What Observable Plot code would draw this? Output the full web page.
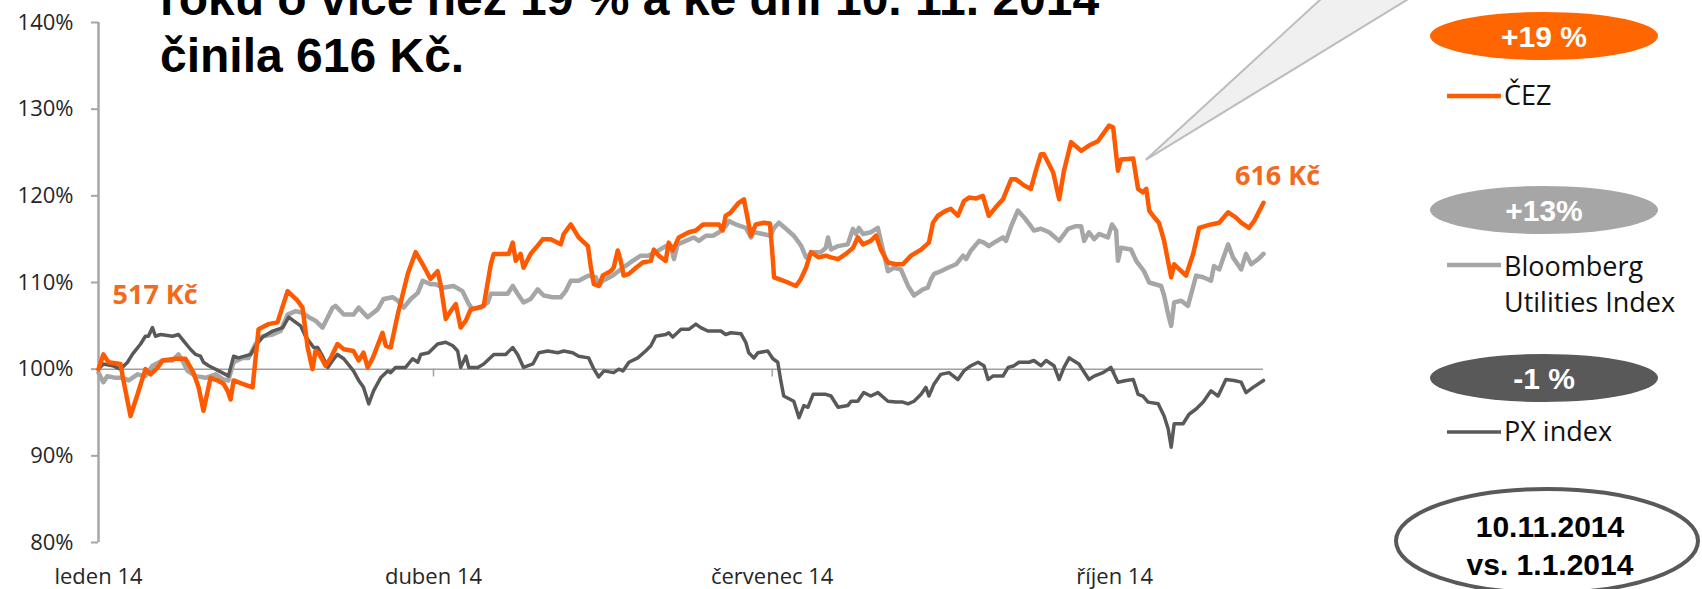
<!DOCTYPE html>
<html><head><meta charset="utf-8">
<script src="https://cdn.jsdelivr.net/npm/d3@7"></script>
<script src="https://cdn.jsdelivr.net/npm/@observablehq/plot@0.6"></script>
<style>
html,body{margin:0;padding:0;background:#fff;overflow:hidden;}
#wrap{position:relative;width:1702px;height:589px;overflow:hidden;background:#fff;}
#wrap svg{position:absolute;left:0;top:0;}
</style></head><body><div id="wrap"></div>
<script>
// ---- data (days since 1.1.2014, value in % of 1.1.2014) ----
const endDay = 313; // 10.11.2014
const monthTickDays = [0, 90, 181, 273];
const monthLabels = ["leden 14", "duben 14", "červenec 14", "říjen 14"];
const yTicks = [80, 90, 100, 110, 120, 130, 140];

const cez = [[0,100],[1.3,101.7],[2.7,100.8],[5.9,100.6],[6.7,98.7],[8.6,94.6],[10.5,97.1],[12.6,100],[14,99.4],[15.9,100.2],[17.2,101],[20.7,101.2],[23.4,101.2],[25.5,99.6],[26.9,97.9],[28.2,95.2],[30.1,99],[32,98.7],[33.6,98.3],[34.7,97.5],[35.5,96.5],[36.3,98.7],[38.7,98.3],[41.4,97.9],[43,104.6],[45.7,105.2],[48.1,105.4],[50.8,109],[53.5,107.9],[54.8,107.1],[56.2,102.5],[57.5,100],[58.3,102.1],[59.1,101.9],[61,100.4],[62.4,101.3],[64.2,102.9],[65.9,102.3],[68.5,102.1],[69.9,101],[71.2,101.9],[72.3,100.2],[73.7,101.3],[76.3,104.2],[77.2,102.7],[78.5,102.5],[80.4,106.3],[83.1,111],[85.2,113.5],[87.1,112.1],[89.2,110.4],[91.1,111.3],[91.9,109.8],[93.3,105.8],[94.6,106.7],[96,107.5],[97.3,104.8],[98.7,105.6],[100,106.9],[101.9,107.1],[103.5,107.3],[105.4,112.1],[106.2,113.3],[108.6,113.3],[110.2,113.3],[111.3,114.6],[112.1,112.5],[113.4,113.3],[114.2,111.7],[116.1,113.3],[117.5,114],[119.4,115],[121.5,115],[124.2,114.4],[125,115.6],[126.9,116.7],[129,115.2],[131.5,114.2],[132.3,111.7],[133.1,109.8],[134.4,109.6],[135.5,110.8],[137.6,111.3],[138.4,111.7],[139.5,113.7],[140.3,112.5],[141.1,110.8],[142.5,111],[144.4,111.7],[146.2,112.3],[148.4,112.5],[149.2,113.8],[150.5,113.1],[152.4,112.5],[153.2,114.6],[154.3,113.7],[155.9,115.2],[158.6,115.8],[160.5,116],[162.4,116.7],[165.1,116.7],[166.7,116.7],[167.7,116],[168.5,117.7],[169.9,118.1],[172,119.2],[173.4,119.6],[175.3,115.4],[176.6,116.7],[178.8,116.9],[180.4,116.8],[181.2,112.5],[181.5,110.6],[182.8,110.4],[184.1,110.2],[187.4,109.6],[188.7,110.4],[190.1,111.7],[191.4,113.5],[193.5,112.9],[195.4,113.1],[196.8,112.9],[198.7,112.7],[200.8,113.3],[202.7,114],[204,115.2],[205.4,114.4],[207.5,114.8],[208.9,115.4],[210.2,113.8],[212.1,112.3],[214.2,112.1],[216.1,112.1],[218.3,113.1],[221,113.8],[223.1,114.6],[224.2,116.9],[225.5,117.7],[227.7,118.3],[229,118.5],[230.9,117.7],[232.5,119.4],[233.9,119.8],[235.8,119.7],[237.6,120],[239.2,117.7],[241.1,118.7],[243,119.6],[245.2,121.9],[246.5,121.9],[248.7,121.2],[250.5,120.8],[251.9,123],[253.2,124.8],[254,124.8],[256.5,122.7],[258.1,119.6],[259.4,122.9],[261.3,126.2],[264,125.2],[266.1,125.8],[268.5,126.3],[271.5,128.1],[272.6,127.9],[273.9,122.9],[274.7,124.2],[278,124.3],[279.3,120.8],[280.6,120.4],[281.5,120.8],[282.3,118.3],[283.3,117.7],[284.9,116.9],[286.3,114.8],[288.2,110.6],[289,112.1],[292.2,110.8],[294.1,113.3],[295.7,116.3],[298.9,116.7],[301.1,116.9],[303.5,118.1],[305.6,117.5],[307,116.9],[309.1,116.3],[310.5,117.1],[313,119.2]];

const bloomberg = [[0,99.6],[1.3,98.5],[2.4,99.2],[4.6,99],[6.5,99],[8.1,98.7],[10.5,99.4],[12.6,99.2],[14.5,100.4],[17.2,101],[19.9,101],[21.5,101.7],[22.8,100.8],[23.9,99.8],[26.1,99.2],[28.8,99],[31.5,99.4],[33.6,98.8],[34.9,98.7],[36.3,100.8],[38.7,101.3],[40.3,101.3],[42.2,102.9],[44.1,103.8],[46.8,104],[48.9,104.4],[50.8,106.3],[53,106.7],[54.8,106.5],[56.5,106],[58.3,105.6],[60.2,104.8],[61.6,106],[62.9,107.1],[63.7,107.3],[65.9,106.3],[68.5,106.3],[69.9,107.1],[72.3,106],[75,106.9],[76.6,108.1],[79,108.3],[80.4,107.9],[82,107.1],[83.9,108.1],[85.8,108.8],[87.1,110.2],[89.2,109.8],[90.6,109.8],[92.5,109.4],[95.4,109.6],[97.8,109],[99.5,107.5],[100.5,106.9],[102.7,107.1],[104.6,107.7],[105.4,108.7],[108.1,108.7],[109.9,108.7],[111.3,109.6],[112.6,108.7],[114.2,107.7],[116.1,108.1],[118,109.2],[119.6,108.5],[122,108.3],[124.2,108.3],[125.5,109],[126.9,110.2],[129,110.2],[131.7,110.8],[133.6,110.6],[134.4,109.6],[135.5,110.2],[138.2,110.8],[140.9,111.7],[143.5,112.5],[145.7,113.1],[147.8,113.1],[149.7,113.5],[152.4,114.2],[153.8,114.2],[154.6,112.7],[155.6,114.4],[157.8,114.8],[159.9,115.2],[161.3,114.8],[163.2,115.4],[165.1,115.4],[166.7,115.8],[168.5,116.5],[169.4,117.1],[171.2,116.7],[173.9,116.3],[175.3,115.2],[176.1,115.8],[178.5,115.6],[180.6,115.4],[181.5,116.3],[182.8,116.9],[184.7,116.2],[186.8,115.4],[188.7,114.3],[190.1,112.9],[192.2,113.5],[194.1,113.5],[195.4,114],[196,115.2],[196.8,113.8],[198.7,114.2],[201.3,114.4],[202.7,116.2],[203.5,115.6],[204.3,116.3],[205.4,115.6],[207.5,115.8],[209.4,116.3],[210.2,114.8],[212.1,111.3],[213.7,111.7],[215.6,111.5],[217.5,109.6],[219.1,108.5],[221.5,109.2],[222.8,109.4],[223.7,110.4],[224.5,111],[226.3,111.3],[228.2,111.7],[230.4,112.1],[232.3,113.1],[233.1,112.7],[234.4,113.7],[236.6,114.8],[237.9,114.6],[239.2,114.2],[240.6,114.6],[243,115.2],[243.8,114.8],[245.2,116.5],[247,118.3],[248.7,117.5],[250.5,116.5],[251.3,116],[253.2,116.2],[255.4,115.8],[258.1,114.8],[260.5,116.2],[262.6,116.5],[264,116.5],[264.8,114.8],[266.1,115.8],[267.5,115],[268.8,115.6],[271.2,115.2],[272.3,116.7],[273.4,116],[273.9,112.5],[274.7,114],[277.4,113.8],[278.8,112.5],[280.9,111.3],[282.3,110],[285.5,109.6],[286.3,108.5],[287.4,106.3],[288.2,105],[289,107.7],[290.9,107.9],[292.7,107.3],[294.9,110.8],[296.8,110.6],[298.9,110.2],[299.7,111.9],[301.1,111.5],[303.5,114.4],[304.8,112.9],[307,111.5],[308.3,113.3],[309.7,112.1],[311.6,112.7],[313,113.3]];

const px = [[0,100],[1.3,100.6],[3.8,100.4],[5.9,100],[7.8,100.8],[9.1,101.7],[11.3,102.9],[12.6,103.8],[13.4,103.8],[14.5,104.8],[15.3,103.8],[16.7,104],[19.9,103.8],[21.5,104],[22.8,103.3],[24.7,102.3],[26.1,101.7],[27.4,101.5],[28.2,100.8],[29.6,100.4],[32.3,99.8],[34.1,99.4],[34.9,99.2],[36.3,101.5],[37.6,101.3],[40.9,101.7],[42.2,102.7],[44.1,103.7],[46.8,104.4],[49.5,104.8],[51.1,106],[53,105.4],[54.3,105],[55.6,103.8],[57.8,102.5],[58.9,102.5],[60.2,101.5],[61.6,100.2],[62.9,101],[64.2,101.7],[65.9,101.2],[68.5,99.8],[69.9,98.7],[71.2,97.9],[72.6,96],[73.9,97.5],[75.8,99],[77.7,99.8],[78.5,99.6],[79.8,100.2],[82.5,100.2],[84.4,101.2],[85.8,100.8],[86.6,101.7],[88.7,101.9],[91.1,102.9],[93.3,103.1],[95.2,102.7],[96.5,102.1],[97.3,100.2],[98.7,101.5],[99.5,100.2],[101.9,100.2],[103.5,100.6],[106.2,101.7],[109.4,101.7],[111.3,102.5],[112.6,101.7],[114.2,100.2],[116.7,100.6],[118.3,101.9],[120.7,102.1],[123.4,101.9],[125,102.1],[127.4,101.9],[129,101.5],[131.7,101.3],[133.1,100],[134.4,99.1],[135.8,99.8],[138.4,99.6],[139.8,100],[140.9,99.8],[142.5,100.8],[144.9,101.3],[147,102.1],[148.4,102.7],[149.7,103.8],[152.4,104],[153.2,104.2],[154.3,103.7],[156.5,104.6],[158.6,104.6],[160.5,105.2],[161.8,104.8],[163.7,104.4],[167.2,104.4],[168.5,104],[169.9,104.2],[172.6,104.1],[173.9,103.1],[174.7,101.9],[176.1,101.3],[177.2,101.9],[179.8,102.1],[181.2,101.2],[182.5,100.8],[183.3,98.7],[184.1,96.9],[186.8,96.3],[188.2,94.4],[189.5,95.8],[190.6,95.6],[192,97.1],[195.4,97.1],[196.8,96.9],[198.7,95.6],[201.3,95.8],[202.2,96.3],[204,96.3],[205.6,97.3],[207.5,96.9],[209.4,97.3],[212.1,96.3],[214.2,96.2],[216.1,96.2],[217.5,96],[219.1,96.3],[221,97.1],[222.3,97.9],[223.1,96.9],[224.5,98.3],[226.3,99.4],[228.5,99.6],[230.9,98.8],[232.5,99.8],[234.4,100.4],[236.3,100.8],[237.9,100.4],[239,98.8],[240.3,99.2],[243,99.2],[244.4,100.2],[246,100.4],[247.3,100.8],[250,100.8],[251.3,101],[253.2,100.4],[254.6,101],[256.7,100.4],[258.1,98.8],[259.4,100.2],[260.8,101.3],[263.4,100.6],[266.1,98.8],[267.5,99.2],[269.9,99.6],[272,100.2],[273.9,98.5],[276.1,98.7],[278,98.8],[279.3,97.1],[280.6,96.9],[282,96.2],[284.7,96],[286.3,94.6],[287.4,93.1],[288.2,91],[289,93.7],[291.4,93.7],[293,94.8],[294.9,95.4],[296.8,96.2],[298.9,97.5],[300.8,96.9],[302.9,98.8],[305.1,98.7],[307,98.5],[308.3,97.3],[310.2,97.9],[313,98.7]];

const seriesNames = [["ČEZ"], ["Bloomberg", "Utilities Index"], ["PX index"]];
const seriesChanges = ["+19 %", "+13%", "-1 %"];
const priceStart = "517 Kč";
const priceEnd = "616 Kč";
const titleLines = ["roku o více než 19 % a ke dni 10. 11. 2014", "činila 616 Kč."];
const dateNote = ["10.11.2014", "vs. 1.1.2014"];

// ---- helpers / styles ----
const t0 = Date.UTC(2014, 0, 1);
const toDate = d => new Date(t0 + d * 864e5);
const rows = arr => arr.map(([d, v]) => ({date: toDate(d), v}));
const COL = {cez: "#ff5a00", bb: "#a6a6a6", px: "#595959", orangeFill: "#ff6600", label: "#f26a1b"};

const W = 1702, H = 589;
const cezRows = rows(cez), bbRows = rows(bloomberg), pxRows = rows(px);
const tickDates = monthTickDays.map(toDate);

const plot = Plot.plot({
  width: W, height: H,
  marginLeft: 98, marginRight: W - 1263, marginTop: 22, marginBottom: 47,
  style: {fontFamily: "'Open Sans', sans-serif", fontSize: "22px", color: "#262626", background: "transparent"},
  x: {type: "utc", domain: [toDate(0), toDate(endDay)], label: null},
  y: {domain: [80, 140], label: null},
  marks: [
    Plot.ruleY([100], {stroke: "#a0a0a0", strokeWidth: 1.5}),
    Plot.ruleX(tickDates.slice(1), {y1: 100, y2: 99.1, stroke: "#a0a0a0", strokeWidth: 1.5}),
    Plot.ruleX([toDate(0)], {stroke: "#a6a6a6", strokeWidth: 2.5}),
    Plot.axisY(yTicks, {anchor: "left", tickSize: 7, tickPadding: 18, tickFormat: d => d + "%", stroke: "#a6a6a6", strokeWidth: 2, fill: "#262626", fontSize: 22}),
    Plot.axisX(tickDates, {anchor: "bottom", tickSize: 0, tickPadding: 26, tickFormat: (d, i) => monthLabels[i], fill: "#262626", fontSize: 22}),
    Plot.line(bbRows, {x: "date", y: "v", stroke: COL.bb, strokeWidth: 4.5, strokeLinejoin: "round"}),
    Plot.line(pxRows, {x: "date", y: "v", stroke: COL.px, strokeWidth: 3.5, strokeLinejoin: "round"}),
    Plot.line(cezRows, {x: "date", y: "v", stroke: COL.cez, strokeWidth: 4.5, strokeLinejoin: "round"}),
    Plot.text([cezRows[0]], {x: "date", y: "v", text: () => priceStart, textAnchor: "start", lineAnchor: "bottom", dx: 14, dy: -65, fill: COL.label, fontWeight: "bold", fontSize: 27}),
    Plot.text([cezRows[cezRows.length - 1]], {x: "date", y: "v", text: () => priceEnd, textAnchor: "middle", lineAnchor: "bottom", dx: 14, dy: -18, fill: COL.label, fontWeight: "bold", fontSize: 27})
  ]
});
document.getElementById("wrap").appendChild(plot);

const sx = plot.scale("x"), sy = plot.scale("y");

// ---- overlay: title, callout, legend ----
const ov = d3.select("#wrap").append("svg").attr("width", W).attr("height", H);
// callout pointing to the October peak area
const tip = [sx.apply(toDate(281.5)), sy.apply(124.1)];
ov.append("polygon")
  .attr("points", [tip, [1322, -2], [1410, -2]].map(p => p.join(",")).join(" "))
  .attr("fill", "#f0f0f0").attr("stroke", "#bdbdbd").attr("stroke-width", 2);

const title = ov.append("text").attr("x", 160).attr("font-family", "'Liberation Sans', Arial, sans-serif")
  .attr("font-weight", "bold").attr("font-size", 48).attr("fill", "#000");
titleLines.forEach((s, i) => title.append("tspan").attr("x", 160).attr("y", 15 + i * 57).text(s));

const ellipseCy = [36, 210, 378], ellipseFill = [COL.orangeFill, COL.bb, COL.px];
const lineY = [96, 265, 432], lineColor = [COL.cez, COL.bb, COL.px], lineW = [4.5, 4.5, 3.5];
const nameY = [105, 276, 441];
seriesChanges.forEach((c, i) => {
  ov.append("ellipse").attr("cx", 1544).attr("cy", ellipseCy[i]).attr("rx", 114).attr("ry", 24).attr("fill", ellipseFill[i]);
  ov.append("text").attr("x", 1544).attr("y", ellipseCy[i] + 11).attr("text-anchor", "middle")
    .attr("font-family", "'Liberation Sans', Arial, sans-serif").attr("font-weight", "bold").attr("font-size", 30)
    .attr("fill", "#fff").text(c);
  ov.append("line").attr("x1", 1447).attr("x2", 1501).attr("y1", lineY[i]).attr("y2", lineY[i])
    .attr("stroke", lineColor[i]).attr("stroke-width", lineW[i]);
  const t = ov.append("text").attr("font-family", "'Open Sans', sans-serif").attr("font-size", 27).attr("fill", "#111");
  seriesNames[i].forEach((s, j) => t.append("tspan").attr("x", 1504).attr("y", nameY[i] + j * 36).text(s));
});

ov.append("ellipse").attr("cx", 1547).attr("cy", 541).attr("rx", 151).attr("ry", 52)
  .attr("fill", "none").attr("stroke", "#595959").attr("stroke-width", 4);
const dn = ov.append("text").attr("text-anchor", "middle").attr("font-family", "'Liberation Sans', Arial, sans-serif")
  .attr("font-weight", "bold").attr("font-size", 30).attr("fill", "#000");
dateNote.forEach((s, i) => dn.append("tspan").attr("x", 1550).attr("y", 537 + i * 38).text(s));
</script>
</body></html>
